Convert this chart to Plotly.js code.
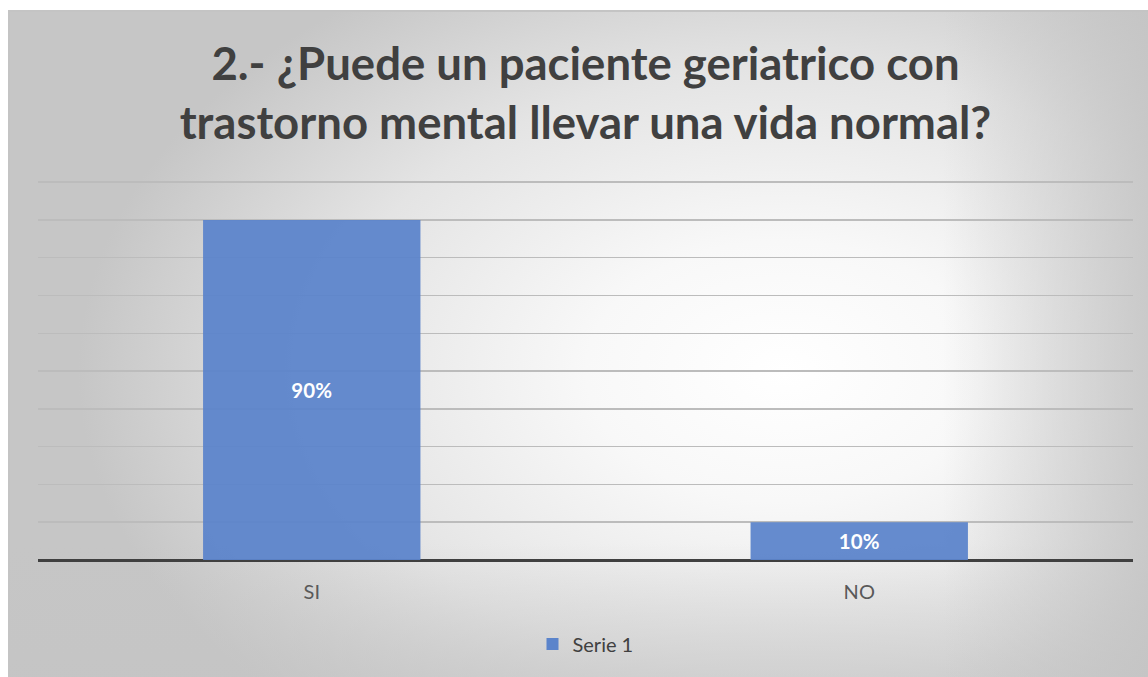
<!DOCTYPE html>
<html>
<head>
<meta charset="utf-8">
<script src="https://cdn.plot.ly/plotly-3.0.1.min.js"></script>
<style>
  html, body { margin: 0; padding: 0; background: #ffffff; width: 1148px; height: 677px; overflow: hidden; }
  #frame {
    position: absolute; left: 8px; top: 10px; width: 1140px; height: 667px;
    box-sizing: border-box;
    border-top: 2px solid #c4c4c4; border-left: 2px solid #c4c4c4;
    background:
      linear-gradient(to right, rgba(196,196,196,0) 82%, rgba(196,196,196,0.85) 100%),
      linear-gradient(to bottom, rgba(196,196,196,0) 80%, rgba(196,196,196,0.6) 100%),
      radial-gradient(ellipse 62% 70% at 68% 54%, #ffffff 0%, #f8f8f8 28%, #e4e4e4 65%, #c6c6c6 100%);
  }
  #chart { position: absolute; left: 0; top: 0; width: 1138px; height: 665px; }
</style>
</head>
<body>
<div id="frame"><div id="chart"></div></div>
<script>
const categories = ["SI", "NO"];
const values = [90, 10];
const valueLabels = ["90%", "10%"];
const seriesName = "Serie 1";
const titleText = "2.- ¿Puede un paciente geriatrico con<br>trastorno mental llevar una vida normal?";

const trace = {
  type: "bar",
  x: categories,
  y: values,
  name: seriesName,
  text: valueLabels,
  textposition: "inside",
  insidetextanchor: "middle",
  textfont: { family: "Lato, 'Open Sans', sans-serif", size: 20.5, color: "#ffffff", weight: "bold" },
  marker: { color: "#5b84cb", opacity: 0.94, line: { width: 0 } },
  showlegend: true,
  hoverinfo: "skip"
};

const layout = {
  width: 1138,
  height: 665,
  paper_bgcolor: "rgba(0,0,0,0)",
  plot_bgcolor: "rgba(0,0,0,0)",
  margin: { l: 28, r: 15, t: 169, b: 117, autoexpand: false },
  bargap: 0.603,
  title: {
    text: titleText,
    font: { family: "Lato, 'Open Sans', sans-serif", size: 45.5, color: "#404040", weight: "bold" },
    x: 0.5, xref: "paper", xanchor: "center",
    y: 0.8975, yref: "container", yanchor: "top"
  },
  xaxis: {
    type: "category",
    showgrid: false,
    showline: false,
    zeroline: false,
    ticks: "",
    tickfont: { family: "Lato, 'Open Sans', sans-serif", size: 20, color: "#595959" },
    ticklabelstandoff: 18
  },
  yaxis: {
    range: [0, 100.3],
    dtick: 10,
    showticklabels: false,
    showgrid: true,
    gridcolor: "#bcbcbc",
    gridwidth: 1.5,
    zeroline: true,
    zerolinecolor: "#404040",
    zerolinewidth: 3,
    showline: false,
    ticks: ""
  },
  legend: {
    orientation: "h",
    x: 0.5, xanchor: "center",
    y: -0.17, yanchor: "top",
    font: { family: "Lato, 'Open Sans', sans-serif", size: 20, color: "#404040" },
    bgcolor: "rgba(0,0,0,0)"
  }
};

Plotly.newPlot("chart", [trace], layout, { displayModeBar: false, staticPlot: true });
</script>
</body>
</html>
